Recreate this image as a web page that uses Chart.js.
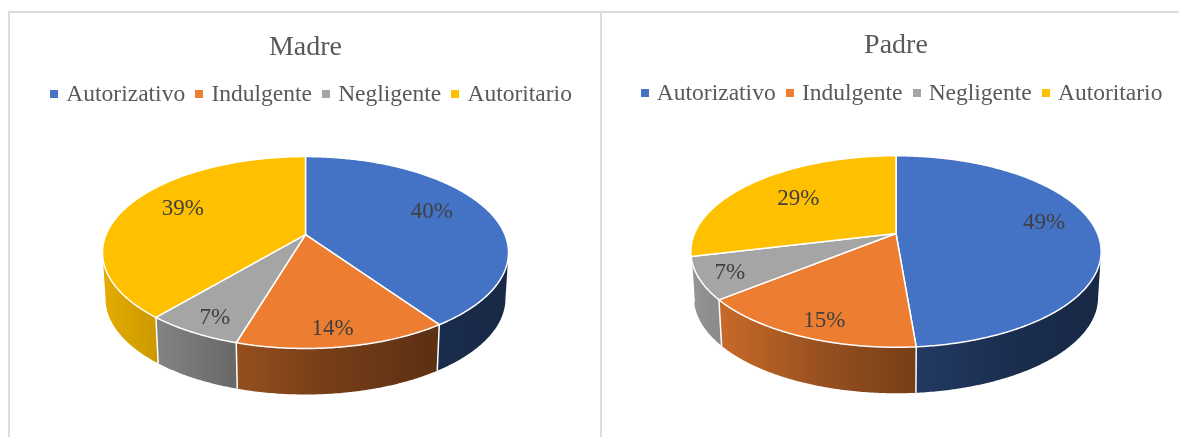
<!DOCTYPE html>
<html><head><meta charset="utf-8">
<style>
html,body{margin:0;padding:0;background:#fff;overflow:hidden;width:1179px;height:437px}
.frame{position:absolute;box-sizing:border-box;border:2px solid #dcdcdc;border-bottom:none}
canvas{position:absolute;display:block}
</style>
<script src="https://cdn.jsdelivr.net/npm/chart.js@4"></script>
</head><body>
<div class="frame" style="left:8px;top:11px;width:594px;height:440px"></div>
<div class="frame" style="left:600px;top:11px;width:600px;height:440px"></div>
<div style="position:absolute;left:10px;top:0;width:591px;height:437px"><canvas id="madre"></canvas></div>
<div style="position:absolute;left:603px;top:0;width:586px;height:437px"><canvas id="padre"></canvas></div>
<script>
const categories = ['Autorizativo','Indulgente','Negligente','Autoritario'];
const madreValues = [40.4,14.2,6.5,38.9];
const padreValues = [48.7,15.4,7.1,28.8];
const colors = ['#4472C4','#ED7D31','#A5A5A5','#FFC000'];

// label nudges (px) from the slice anchor
const madreNudge = [[-2,-4],[2,21],[-16,19],[3,-4]];
const padreNudge = [[8,-8],[-9,20],[-32,9],[5,2]];

// perspective shape of the tilted disc
const PERSP = 0.1875, TILT = -48.6, DEPTH = 46, BASE_SCALE = 0.985;
const WALL_SHADE = [[0,.9],[.13,.8],[.32,.64],[.55,.5],[.82,.39],[1,.36]];

function shade(hex,f){
  const n=parseInt(hex.slice(1),16);
  return `rgb(${((n>>16)&255)*f|0},${((n>>8)&255)*f|0},${(n&255)*f|0})`;
}
function square(color){
  const c=document.createElement('canvas');c.width=8;c.height=8;
  const x=c.getContext('2d');x.fillStyle=color;x.fillRect(0,0,8,8);return c;
}
const pie3d = {
  id:'pie3d',
  afterLayout(chart){
    const s=chart.options.plugins.pie3d;
    chart.legend.left+=s.legendShift; chart.legend.right+=s.legendShift;
  },
  beforeDatasetsDraw(chart,args,opts){
    const arcs=chart.getDatasetMeta(0).data, ctx=chart.ctx;
    const cx=arcs[0].x, cy=arcs[0].y, s=opts.radius;
    const proj=(a,r,drop)=>{
      const u=r*Math.cos(a), v=-r*Math.sin(a), d=1+PERSP*v;
      const k=drop?BASE_SCALE:1;
      return [cx+k*s*u/d,(TILT*v+cy)/d+(drop?DEPTH:0)];
    };
    const edge=(a0,a1,drop)=>{
      const n=Math.max(2,Math.ceil((a1-a0)/0.01)),p=[];
      for(let i=0;i<=n;i++)p.push(proj(a0+(a1-a0)*i/n,1,drop));
      return p;
    };
    const lim=Math.asin(PERSP);   // silhouette angle of the rim
    // side walls
    arcs.forEach((arc,i)=>{
      const a0=Math.max(arc.startAngle,lim), a1=Math.min(arc.endAngle,Math.PI-lim);
      if(a1<=a0)return;
      const g=ctx.createLinearGradient(cx-s*1.02,0,cx+s*1.02,0);
      WALL_SHADE.forEach(([t,f])=>g.addColorStop(t,shade(colors[i],f)));
      const top=edge(a0,a1,false), bot=edge(a0,a1,true).reverse();
      ctx.beginPath();
      top.concat(bot).forEach((p,k)=>k?ctx.lineTo(p[0],p[1]):ctx.moveTo(p[0],p[1]));
      ctx.closePath();ctx.fillStyle=g;ctx.fill();
    });
    // wall dividers
    ctx.strokeStyle='#fff';ctx.lineWidth=1.5;
    arcs.forEach(arc=>{
      const a=arc.startAngle;
      if(Math.sin(a)>PERSP){
        const p=proj(a,1,false),q=proj(a,1,true);
        ctx.beginPath();ctx.moveTo(p[0],p[1]);ctx.lineTo(q[0],q[1]);ctx.stroke();
      }
    });
    // top face
    arcs.forEach((arc,i)=>{
      const pts=edge(arc.startAngle,arc.endAngle,false);
      const c=proj(0,0,false);
      ctx.beginPath();ctx.moveTo(c[0],c[1]);
      pts.forEach(p=>ctx.lineTo(p[0],p[1]));
      ctx.closePath();
      ctx.fillStyle=colors[i];ctx.fill();
      ctx.strokeStyle='#fff';ctx.lineWidth=1.5;ctx.lineJoin='round';ctx.stroke();
    });
    // percentage labels
    ctx.fillStyle='#404040';ctx.font='23px "Liberation Serif"';
    ctx.textAlign='center';ctx.textBaseline='middle';
    const vals=chart.data.datasets[0].data;
    arcs.forEach((arc,i)=>{
      const p=proj((arc.startAngle+arc.endAngle)/2,0.7,false);
      ctx.fillText(Math.round(vals[i])+'%',p[0]+opts.nudge[i][0],p[1]+opts.nudge[i][1]);
    });
    return false;
  }
};
function build(id,width,title,values,nudge,radius,legendShift,titleTop,titleBottom,bottom){
  const el=document.getElementById(id);
  el.width=width;el.height=437;el.style.width=width+'px';el.style.height='437px';
  new Chart(el,{
    type:'pie',
    data:{labels:categories,datasets:[{data:values,backgroundColor:colors,borderWidth:0}]},
    plugins:[pie3d],
    options:{
      responsive:false,animation:false,
      layout:{padding:{bottom}},
      plugins:{
        pie3d:{radius,nudge,legendShift},
        tooltip:{enabled:false},
        title:{display:true,text:title,color:'#595959',
          font:{family:'"Liberation Serif"',size:28,weight:'normal'},padding:{top:titleTop,bottom:titleBottom}},
        legend:{position:'top',
          labels:{usePointStyle:true,pointStyleWidth:0.5,padding:14,color:'#595959',
            font:{family:'"Liberation Serif"',size:23.5},
            generateLabels(c){
              return Chart.overrides.pie.plugins.legend.labels.generateLabels(c)
                .map((it,i)=>Object.assign(it,{pointStyle:square(colors[i])}));
            }}}
      }
    }
  });
}
build('madre',591,'Madre',madreValues,madreNudge,199.4,7.5,31,4,84);
build('padre',586,'Padre',padreValues,padreNudge,201.5,7.5,29,5,85);
</script>
</body></html>
